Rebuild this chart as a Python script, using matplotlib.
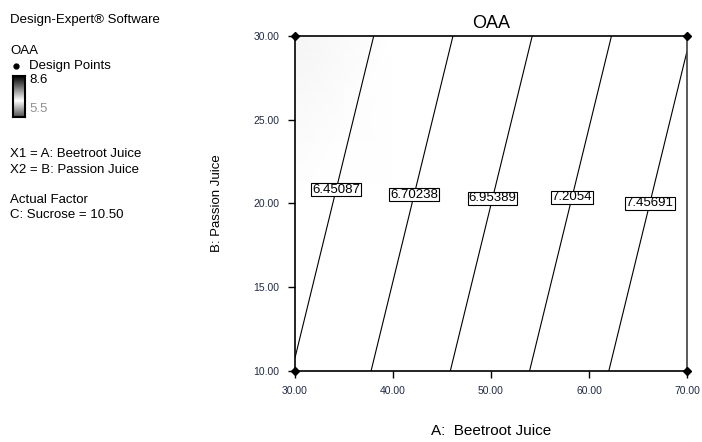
import numpy as np
import matplotlib
matplotlib.use('Agg')
import matplotlib.pyplot as plt
from matplotlib.colors import LinearSegmentedColormap

plt.rcParams['font.family'] = ['Liberation Sans', 'DejaVu Sans']

# grid readings of the OAA response surface (C: Sucrose = 10.50)
beetroot = [30, 40, 50, 60, 70]          # A: Beetroot Juice
passion = [10, 20, 30]                   # B: Passion Juice
oaa = [[6.461, 6.772, 7.083, 7.394, 7.705],
       [6.331, 6.642, 6.953, 7.264, 7.575],
       [6.201, 6.512, 6.823, 7.134, 7.445]]

levels = [6.45087, 6.70238, 6.95389, 7.2054, 7.45691]
level_labels = ['6.45087', '6.70238', '6.95389', '7.2054', '7.45691']

design_a = [30, 30, 70, 70]
design_b = [10, 30, 10, 30]

xticks = [30, 40, 50, 60, 70]
yticks = [10, 15, 20, 25, 30]
vmin, vmax = 5.5, 8.6

tick_col = '#1f2a44'

# grey -> white -> black shading like Design-Expert
def frac(v):
    return (v - vmin) / (vmax - vmin)
cmap = LinearSegmentedColormap.from_list(
    'de', [(0.0, '#909090'), (frac(6.26), '#ffffff'),
           (frac(8.0), '#ffffff'), (1.0, '#000000')])
# the small legend strip is drawn with stronger contrast
legend_cmap = LinearSegmentedColormap.from_list(
    'deleg', [(0.0, '#505050'), (0.4, '#ffffff'), (1.0, '#000000')])

fig = plt.figure(figsize=(7.02, 4.42), dpi=100)
ax = fig.add_axes([0.4202, 0.1606, 0.5584, 0.758])

A, B = np.meshgrid(beetroot, passion)
Z = np.array(oaa)
ax.pcolormesh(A, B, Z, shading='gouraud', cmap=cmap, vmin=vmin, vmax=vmax)
cs = ax.contour(A, B, Z, levels=levels, colors='black', linewidths=0.8)

label_pos = [(33.9, 20.87), (41.9, 20.57), (50.0, 20.33), (58.1, 20.39), (66.0, 20.03)]
fmt = dict(zip(levels, level_labels))
texts = ax.clabel(cs, levels, inline=False, fmt=fmt, manual=label_pos, fontsize=9.5)
for t in texts:
    t.set_rotation(0)
    t.set_zorder(5)
    t.set_bbox(dict(facecolor='white', edgecolor='black', linewidth=0.8, pad=0.6))

ax.plot(design_a, design_b, 'D', color='black', markersize=4, clip_on=False, zorder=6)

ax.set_xlim(30, 70)
ax.set_ylim(10, 30)
ax.set_xticks(xticks)
ax.set_yticks(yticks)
ax.set_xticklabels(['%.2f' % v for v in xticks])
ax.set_yticklabels(['%.2f' % v for v in yticks])
ax.tick_params(direction='out', length=5, width=1, labelsize=7.5, labelcolor=tick_col, pad=6)
for s in ax.spines.values():
    s.set_linewidth(1.2)
ax.spines['right'].set_color('#404040')

ax.set_title('OAA', fontsize=13, pad=6)
ax.set_xlabel('A:  Beetroot Juice', fontsize=11, labelpad=20)
ax.set_ylabel('B: Passion Juice', fontsize=9.5, labelpad=22)

# left information panel
def ftxt(x, y, s, **kw):
    fig.text(x / 702, 1 - y / 442, s, va='center', ha='left', fontsize=9.5, **kw)

ftxt(10, 20, 'Design-Expert\u00ae Software')
ftxt(10, 51, 'OAA')
fig.lines.append(plt.Line2D([16 / 702], [1 - 66 / 442], marker='o', markersize=3.5,
                            color='black', transform=fig.transFigure))
ftxt(29, 66, 'Design Points')
ftxt(29, 80, '8.6')
ftxt(29, 109, '5.5', color='#909090')
ftxt(10, 154, 'X1 = A: Beetroot Juice')
ftxt(10, 170, 'X2 = B: Passion Juice')
ftxt(10, 200, 'Actual Factor')
ftxt(10, 215, 'C: Sucrose = 10.50')

cax = fig.add_axes([13 / 702, 1 - 117 / 442, 12 / 702, 41 / 442])
grad = np.linspace(1, 0, 100).reshape(-1, 1)
cax.imshow(grad, aspect='auto', cmap=legend_cmap, vmin=0, vmax=1)
cax.set_xticks([])
cax.set_yticks([])
for s in cax.spines.values():
    s.set_linewidth(1.5)

fig.savefig('out.png', dpi=100)
